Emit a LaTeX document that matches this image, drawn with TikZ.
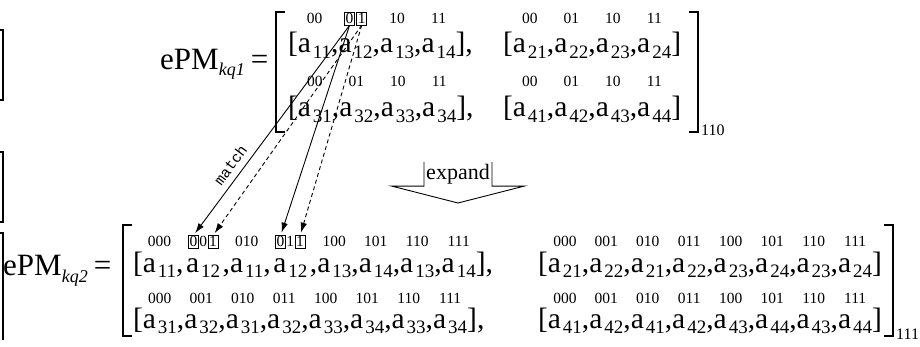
\documentclass[tikz,border=0pt]{standalone}
\usepackage{fontspec}
\setmainfont{Liberation Serif}
\newfontfamily\matchfont{Liberation Mono}
\usetikzlibrary{arrows.meta}

% element a_{ij} with a lowered subscript
\newcommand\aij[1]{a\kern2pt\raisebox{-5.5pt}{\fontsize{19}{19}\selectfont #1}}
\newcommand\cm{,}
\newcommand\cmr{,\kern2.5pt}
\newcommand\cml{\kern2.5pt,}

\tikzset{
  txt/.style={inner sep=0pt, outer sep=0pt, font=\fontsize{29.5}{30}\selectfont, anchor=base west},
  lbl/.style={inner sep=0pt, outer sep=0pt, font=\fontsize{15.5}{15.5}\selectfont, anchor=base},
  lblbox/.style={draw, line width=0.6pt, inner sep=1.2pt, outer sep=0pt, font=\fontsize{15.5}{15.5}\selectfont},
  lhs/.style={inner sep=0pt, anchor=base west},
  brk/.style={line width=1.4pt},
  edge/.style={line width=1.2pt},
  arr/.style={line width=0.9pt, -{Latex[length=10pt,width=6.5pt]}, shorten >=3pt},
  darr/.style={arr, dash pattern=on 4pt off 3pt},
}

% one bracketed vector: #1 name, #2 position of '[', #3 entries sub/separator,
% #4 number of entries, #5 text after ']'
\newcommand\vecrow[5]{%
  \node[txt] (#1-c0) at #2 {[};
  \foreach \s/\c [count=\i, remember=\i as \j (initially 0)] in {#3} {
    \node[txt] (#1-\i) at (#1-c\j.base east) {\aij{\s}};
    \ifnum\i<#4
      \node[txt] (#1-c\i) at (#1-\i.base east) {\c};
    \fi
  }
  \node[txt] (#1-end) at (#1-#4.base east) {]#5};
}
% index labels above the entries of a vector
\newcommand\labrow[3]{%
  \foreach \l [count=\i] in {#3} {
    \node[lbl] (#1-l\i) at ([yshift=#2]#1-\i.base) {\l};
  }
}

\begin{document}
\begin{tikzpicture}[x=1pt, y=-1pt]
\useasboundingbox (0,0) rectangle (920,347);

% pieces of brackets at the left edge
\draw[edge] (0,30) -- (3,30) -- (3,100) -- (0,100);
\draw[edge] (0,152) -- (3,152) -- (3,222) -- (0,222);
\draw[edge] (0,233) -- (3,233) -- (3,340);

% ---------------- ePM_kq1 ----------------
\node[lhs] (lhs1) at (160,70)
  {\fontsize{31}{31}\selectfont ePM\raisebox{-6pt}{\fontsize{18}{18}\selectfont\itshape kq1}\kern6pt=};
\draw[brk] (285,12) -- (276,12) -- (276,132) -- (285,132);
\draw[brk] (689,12) -- (698,12) -- (698,132) -- (689,132);
\node[lhs, font=\fontsize{16}{16}\selectfont] (sub1) at (701,136) {110};

\vecrow{u1}{(288,53)}{11/\cm,12/\cm,13/\cm,14/\cm}{4}{,}
\vecrow{u2}{(503,53)}{21/\cm,22/\cm,23/\cm,24/\cm}{4}{}
\vecrow{u3}{(288,117)}{31/\cm,32/\cm,33/\cm,34/\cm}{4}{,}
\vecrow{u4}{(503,117)}{41/\cm,42/\cm,43/\cm,44/\cm}{4}{}

\labrow{u1}{29pt}{00,{},10,11}
\labrow{u2}{29pt}{00,01,10,11}
\labrow{u3}{30pt}{00,01,10,11}
\labrow{u4}{30pt}{00,01,10,11}

\node[lblbox, anchor=base east] (k0) at ([yshift=29pt, xshift=-1pt]u1-2.base) {0};
\node[lblbox, anchor=base west] (k1) at ([yshift=29pt, xshift=1pt]u1-2.base) {1};

% ---------------- expand ----------------
\node[inner sep=2pt, font=\fontsize{22}{22}\selectfont] (exp) at (458,174) {expand};
\coordinate (tip) at (458,203);
\draw[line width=0.9pt] (exp.north west) -- (exp.south west) -- ([xshift=-32pt]exp.south west)
  -- (tip) -- ([xshift=32pt]exp.south east) -- (exp.south east) -- (exp.north east);

% ---------------- ePM_kq2 ----------------
\node[lhs] (lhs2) at (3,276)
  {\fontsize{31}{31}\selectfont ePM\raisebox{-6pt}{\fontsize{18}{18}\selectfont\itshape kq2}\kern6pt=};
\draw[brk] (132,225) -- (123,225) -- (123,336) -- (132,336);
\draw[brk] (884,225) -- (893,225) -- (893,336) -- (884,336);
\node[lhs, font=\fontsize{16}{16}\selectfont] (sub2) at (896,339) {111};

\vecrow{v1}{(133,272)}{11/\cmr,12/\cml,11/\cmr,12/\cml,13/\cm,14/\cm,13/\cm,14/\cm}{8}{,}
\vecrow{v2}{(538,272)}{21/\cm,22/\cm,21/\cm,22/\cm,23/\cm,24/\cm,23/\cm,24/\cm}{8}{}
\vecrow{v3}{(133,328)}{31/\cm,32/\cm,31/\cm,32/\cm,33/\cm,34/\cm,33/\cm,34/\cm}{8}{,}
\vecrow{v4}{(538,328)}{41/\cm,42/\cm,41/\cm,42/\cm,43/\cm,44/\cm,43/\cm,44/\cm}{8}{}

\labrow{v1}{25pt}{000,{},010,{},100,101,110,111}
\labrow{v2}{25pt}{000,001,010,011,100,101,110,111}
\labrow{v3}{25pt}{000,001,010,011,100,101,110,111}
\labrow{v4}{25pt}{000,001,010,011,100,101,110,111}

% boxed bits of 001 and 011
\node[lbl] (m1) at ([yshift=25pt]v1-2.base) {0};
\node[lblbox, anchor=base east] (b0a) at ([xshift=-0.8pt]m1.base west) {0};
\node[lblbox, anchor=base west] (b1a) at ([xshift=0.8pt]m1.base east) {1};
\node[lbl] (m2) at ([yshift=25pt]v1-4.base) {1};
\node[lblbox, anchor=base east] (b0b) at ([xshift=-0.8pt]m2.base west) {0};
\node[lblbox, anchor=base west] (b1b) at ([xshift=0.8pt]m2.base east) {1};

% ---------------- matching arrows ----------------
\draw[arr] (k0.south) -- node[pos=0.7, sloped, above=3pt, font=\matchfont\fontsize{15}{15}\selectfont] (mt) {match} (b0a.north);
\draw[arr] (k0.south) -- (b0b.north);
\draw[darr] (k1.south) -- (b1a.north);
\draw[darr] (k1.south) -- (b1b.north);
\end{tikzpicture}
\end{document}
